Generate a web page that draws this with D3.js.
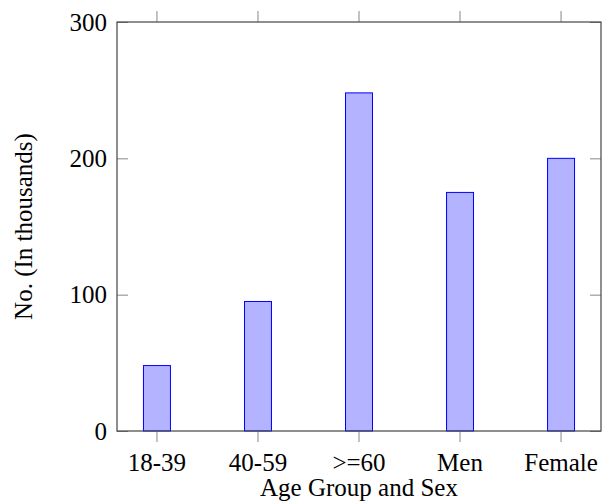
<!DOCTYPE html>
<html>
<head>
<meta charset="utf-8">
<script src="https://cdn.jsdelivr.net/npm/d3@7"></script>
<style>
  body { margin: 0; background: #fff; }
  text { font-family: "Liberation Serif", "Times New Roman", serif; fill: #000; }
</style>
</head>
<body>
<svg id="chart" width="602" height="504"></svg>
<script>
// data
const categories = ["18-39", "40-59", ">=60", "Men", "Female"];
const counts = [48, 95, 248, 175, 200];
const yTicks = [0, 100, 200, 300];

const svg = d3.select("#chart");
const plotLeft = 117, plotRight = 601, plotTop = 22, plotBottom = 431;

const x = d3.scaleBand()
    .domain(categories)
    .range([plotLeft, plotRight])
    .paddingInner(0.733)
    .paddingOuter(0.262);

const y = d3.scaleLinear()
    .domain([0, 300])
    .range([plotBottom, plotTop]);

// bars
svg.append("g")
    .selectAll("rect")
    .data(counts)
    .join("rect")
    .attr("x", (d, i) => x(categories[i]))
    .attr("y", d => y(d))
    .attr("width", x.bandwidth())
    .attr("height", d => y(0) - y(d))
    .style("fill", "#b3b3ff")
    .style("stroke", "#0000ff")
    .style("stroke-width", 1);

// x ticks, outward top and bottom
const tickLen = 11;
svg.append("g")
    .attr("transform", `translate(0,${plotBottom})`)
    .call(d3.axisBottom(x).tickSize(tickLen).tickPadding(11))
    .call(g => g.select(".domain").remove());
svg.append("g")
    .attr("transform", `translate(0,${plotTop})`)
    .call(d3.axisTop(x).tickSize(tickLen).tickFormat(""))
    .call(g => g.select(".domain").remove());

// y ticks, inward left and right
svg.append("g")
    .attr("transform", `translate(${plotLeft},0)`)
    .call(d3.axisLeft(y).tickValues(yTicks).tickSize(-tickLen).tickPadding(10))
    .call(g => g.select(".domain").remove());
svg.append("g")
    .attr("transform", `translate(${plotRight},0)`)
    .call(d3.axisRight(y).tickValues(yTicks).tickSize(-tickLen).tickFormat(""))
    .call(g => g.select(".domain").remove());

svg.selectAll(".tick line").style("stroke", "#888").style("stroke-width", 1);
svg.selectAll(".tick text")
    .style("font-family", "'Liberation Serif', serif")
    .style("font-size", "25px")
    .style("fill", "#000");

// frame
svg.append("rect")
    .attr("x", plotLeft)
    .attr("y", plotTop)
    .attr("width", plotRight - plotLeft)
    .attr("height", plotBottom - plotTop)
    .style("fill", "none")
    .style("stroke", "#444")
    .style("stroke-width", 1.2);

// axis titles
svg.append("text")
    .attr("x", (plotLeft + plotRight) / 2)
    .attr("y", 496)
    .attr("text-anchor", "middle")
    .style("font-size", "25px")
    .text("Age Group and Sex");

svg.append("text")
    .attr("transform", `translate(32,${(plotTop + plotBottom) / 2}) rotate(-90)`)
    .attr("text-anchor", "middle")
    .style("font-size", "25px")
    .text("No. (In thousands)");
</script>
</body>
</html>
